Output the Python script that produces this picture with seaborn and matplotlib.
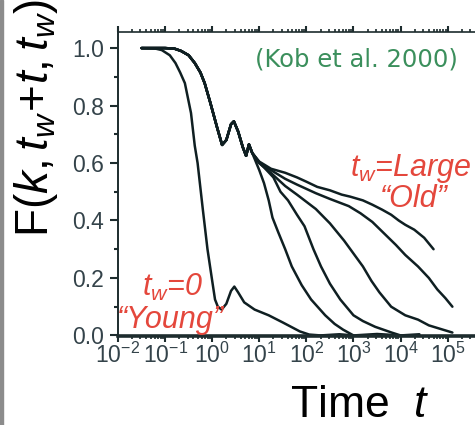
import numpy as np
import pandas as pd
import matplotlib
matplotlib.use("Agg")
import matplotlib.pyplot as plt
from matplotlib.patches import Rectangle
from matplotlib.ticker import LogLocator, MultipleLocator, NullFormatter
import seaborn as sns

# ---- data (log10 of time, correlation F) ----
young_logt = [-1.5, -1.2, -1.07, -0.9, -0.78, -0.68, -0.58, -0.45, -0.37, -0.31, -0.2, -0.1,
              0.0, 0.06, 0.12, 0.2, 0.3, 0.4, 0.47, 0.55, 0.68, 0.9, 1.2, 1.5, 1.86, 2.06, 2.3,
              2.7, 3.0]
young_F = [1.0, 0.998, 0.993, 0.975, 0.948, 0.915, 0.878, 0.774, 0.66, 0.6, 0.44, 0.3,
           0.19, 0.125, 0.1, 0.09, 0.11, 0.155, 0.17, 0.15, 0.115, 0.09, 0.07, 0.045, 0.014,
           0.003, 0.0, 0.004, 0.0]

env_logt = [-1.5, -1.0, -0.8, -0.66, -0.5, -0.37, -0.25, -0.16, -0.04, 0.1, 0.21, 0.3, 0.4,
            0.46, 0.55, 0.65, 0.72, 0.78, 0.85]
env_F = [1.0, 1.0, 0.998, 0.99, 0.975, 0.948, 0.915, 0.878, 0.81, 0.726, 0.663, 0.68, 0.735,
         0.745, 0.71, 0.655, 0.625, 0.665, 0.635]

a_logt = [1.0, 1.1, 1.2, 1.28, 1.4, 1.55, 1.69, 1.9, 2.1, 2.4, 2.6, 2.78, 3.0, 3.5, 4.0]
a_F = [0.575, 0.53, 0.47, 0.41, 0.36, 0.3, 0.24, 0.175, 0.125, 0.07, 0.04, 0.02, 0.0, 0.005, 0.0]

b_logt = [1.0, 1.1, 1.3, 1.45, 1.61, 1.8, 1.96, 2.15, 2.31, 2.5, 2.72, 3.0, 3.2, 3.46, 3.81,
          4.0, 4.4]
b_F = [0.6, 0.585, 0.55, 0.5, 0.47, 0.42, 0.38, 0.3, 0.24, 0.18, 0.125, 0.07, 0.05, 0.03,
       0.01, 0.0, 0.004]

c_logt = [1.0, 1.25, 1.55, 1.8, 2.0, 2.2, 2.5, 2.8, 3.0, 3.2, 3.38, 3.55, 3.8, 4.1, 4.37,
          4.6, 4.9, 5.1]
c_F = [0.6, 0.565, 0.52, 0.49, 0.465, 0.44, 0.39, 0.33, 0.285, 0.24, 0.19, 0.15, 0.1, 0.07,
       0.055, 0.035, 0.02, 0.01]

d_logt = [1.0, 1.25, 1.55, 1.8, 2.0, 2.2, 2.5, 2.9, 3.15, 3.4, 3.65, 3.9, 4.1, 4.37, 4.6,
          4.78, 4.95, 5.1]
d_F = [0.602, 0.575, 0.545, 0.525, 0.51, 0.495, 0.475, 0.45, 0.425, 0.395, 0.355, 0.315,
       0.28, 0.24, 0.2, 0.16, 0.13, 0.1]

e_logt = [1.0, 1.25, 1.55, 1.8, 2.0, 2.23, 2.5, 2.75, 2.93, 3.2, 3.4, 3.61, 3.8, 3.96, 4.1,
          4.29, 4.5, 4.7]
e_F = [0.605, 0.58, 0.566, 0.55, 0.535, 0.517, 0.505, 0.49, 0.483, 0.47, 0.455, 0.4375,
       0.42, 0.40, 0.385, 0.368, 0.34, 0.30]

curve_names = ["tw0", "A", "B", "C", "D", "E"]

x_ticks_exp = [-2, -1, 0, 1, 2, 3, 4, 5]
y_ticks = [0.0, 0.2, 0.4, 0.6, 0.8, 1.0]

# ---- build long table ----
rows = []
rows += [("tw0", 10 ** lt, f) for lt, f in zip(young_logt, young_F)]
for name, lts, fs in [("A", a_logt, a_F), ("B", b_logt, b_F), ("C", c_logt, c_F),
                      ("D", d_logt, d_F), ("E", e_logt, e_F)]:
    for lt, f in zip(env_logt, env_F):
        rows.append((name, 10 ** lt, f))
    for lt, f in zip(lts, fs):
        rows.append((name, 10 ** lt, f))
df = pd.DataFrame(rows, columns=["curve", "t", "F"])

# ---- style ----
sns.set_style("ticks")
plt.rcParams["font.family"] = ["Liberation Sans", "DejaVu Sans"]
plt.rcParams["mathtext.fontset"] = "custom"
plt.rcParams["mathtext.rm"] = "Liberation Sans"
plt.rcParams["mathtext.it"] = "Liberation Sans:italic"

W, H = 475, 425
fig = plt.figure(figsize=(W / 100, H / 100), dpi=100)
ax = fig.add_axes([118 / W, (H - 336) / H, (W - 118) / W, (336 - 32) / H])

line_col = "#0f1f22"
sns.lineplot(data=df, x="t", y="F", units="curve", estimator=None, sort=False,
             color=line_col, linewidth=1.8, ax=ax, legend=False)

ax.set_xscale("log")
ax.set_xlim(10 ** -1.79, 10 ** 5.58)
ax.set_ylim(-0.002, 1.056)
ax.set_xticks([10.0 ** e for e in x_ticks_exp])
ax.xaxis.set_minor_locator(LogLocator(base=10, subs=np.arange(2, 10), numticks=30))
ax.xaxis.set_minor_formatter(NullFormatter())
ax.set_yticks(y_ticks)
ax.set_yticklabels([f"{v:.1f}" for v in y_ticks])
ax.yaxis.set_minor_locator(MultipleLocator(0.1))
ax.set_xlabel("")
ax.set_ylabel("")

spine_col = "#1d2c2e"
for s in ["left", "top", "bottom"]:
    ax.spines[s].set_color(spine_col)
ax.spines["left"].set_linewidth(1.4)
ax.spines["top"].set_linewidth(1.2)
ax.spines["bottom"].set_linewidth(2.6)
ax.spines["right"].set_visible(False)

tick_lab_col = "#34434a"
ax.tick_params(axis="y", which="major", direction="out", length=6, width=1.5,
               color=spine_col, labelsize=16.5, labelcolor=tick_lab_col, pad=4)
ax.tick_params(axis="y", which="minor", direction="out", length=3, width=1.5, color=spine_col)
ax.tick_params(axis="x", which="major", direction="out", length=4, width=1.5, top=True,
               color=spine_col, labelsize=16.5, labelcolor=tick_lab_col, pad=1)
ax.tick_params(axis="x", which="minor", direction="out", length=2, width=1.2, top=True,
               color=spine_col)

# ---- texts ----
def ftext(x, y, s, **kw):
    fig.text(x / W, 1 - y / H, s, **kw)

ftext(36, 118, r"$\mathrm{F}(k,t_w\!+\!t,t_w)$", rotation=90, ha="center", va="center",
      fontsize=33, color="black")
ftext(290, 417, "Time  " + r"$t$", ha="left", va="baseline", fontsize=32, color="black")

ftext(356, 60, "(Kob et al. 2000)", ha="center", va="center", fontsize=17.5,
      color="#3b8f5c", family=["DejaVu Sans"])

red = "#e4473c"
ftext(350, 176, r"$t_w$=Large", ha="left", va="baseline", fontsize=22, color=red,
      style="italic")
ftext(380, 207, "\u201cOld\u201d", ha="left", va="baseline", fontsize=22, color=red,
      style="italic")
ftext(142, 296, r"$t_w$=0", ha="left", va="baseline", fontsize=22, color=red,
      style="italic")
ftext(117, 328, "\u201cYoung\u201d", ha="left", va="baseline", fontsize=22, color=red,
      style="italic")

fig.add_artist(Rectangle((0, 0), 3 / W, 1, transform=fig.transFigure, color="#8c8c8c",
                         zorder=10))

fig.savefig("out.png", dpi=100)
